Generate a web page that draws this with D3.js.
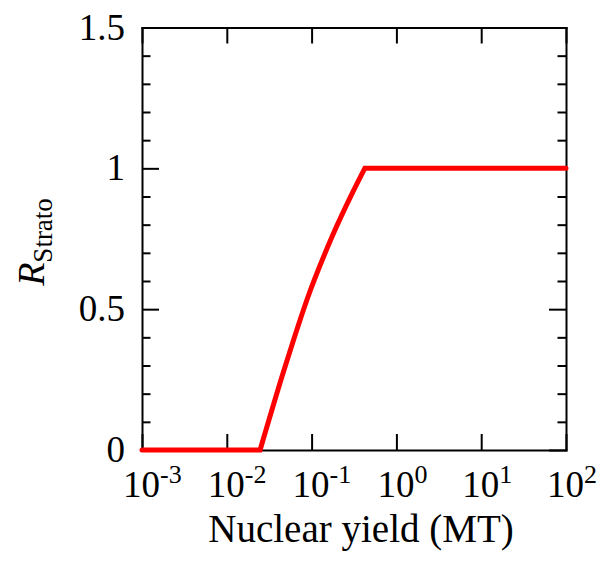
<!DOCTYPE html>
<html>
<head>
<meta charset="utf-8">
<script src="https://cdn.jsdelivr.net/npm/d3@7"></script>
<style>
  body { margin: 0; background: #fff; }
  text { font-family: "Liberation Serif", "DejaVu Serif", serif; fill: #000; }
  .axis path, .axis line { stroke: #000; stroke-width: 2; }
</style>
</head>
<body>
<svg id="chart" width="605" height="573"></svg>
<script>
// data (yield in MT, R_Strato)
var yieldMT = [0.001, 0.0247, 0.0463, 0.0619, 0.0873, 0.173, 0.308, 0.424, 100];
var rStrato = [0, 0, 0.275, 0.395, 0.53, 0.755, 0.917, 1, 1];
var xTickExp = [-3, -2, -1, 0, 1, 2];
var yTicks = [0, 0.5, 1, 1.5];
var yTickLabels = ["0", "0.5", "1", "1.5"];
var yMinor = [0.1, 0.2, 0.3, 0.4, 0.6, 0.7, 0.8, 0.9, 1.1, 1.2, 1.3, 1.4];

var pLeft = 142, pRight = 566, pTop = 27.5, pBottom = 450;

var svg = d3.select("#chart");

var x = d3.scaleLog().domain([1e-3, 1e2]).range([pLeft, pRight]);
var y = d3.scaleLinear().domain([0, 1.5]).range([pBottom, pTop]);

var xVals = xTickExp.map(function(e) { return Math.pow(10, e); });

// frame axes
svg.append("g").attr("class", "axis")
  .attr("transform", "translate(0," + pBottom + ")")
  .call(d3.axisBottom(x).tickValues(xVals).tickSizeInner(-16).tickSizeOuter(0).tickFormat(""));
svg.append("g").attr("class", "axis")
  .attr("transform", "translate(0," + pTop + ")")
  .call(d3.axisTop(x).tickValues(xVals).tickSizeInner(-16).tickSizeOuter(0).tickFormat(""));
svg.append("g").attr("class", "axis")
  .attr("transform", "translate(" + pLeft + ",0)")
  .call(d3.axisLeft(y).tickValues(yTicks).tickSizeInner(-17).tickSizeOuter(0).tickFormat(""));
svg.append("g").attr("class", "axis")
  .attr("transform", "translate(" + pRight + ",0)")
  .call(d3.axisRight(y).tickValues(yTicks).tickSizeInner(-17).tickSizeOuter(0).tickFormat(""));
svg.append("g").attr("class", "axis")
  .attr("transform", "translate(" + pLeft + ",0)")
  .call(d3.axisLeft(y).tickValues(yMinor).tickSizeInner(-8.5).tickSizeOuter(0).tickFormat(""))
  .select(".domain").remove();
svg.append("g").attr("class", "axis")
  .attr("transform", "translate(" + pRight + ",0)")
  .call(d3.axisRight(y).tickValues(yMinor).tickSizeInner(-8.5).tickSizeOuter(0).tickFormat(""))
  .select(".domain").remove();
svg.selectAll(".axis .domain").attr("stroke-linecap", "square");

// y tick labels
svg.selectAll(".ylab")
  .data(yTicks)
  .enter().append("text")
  .attr("class", "ylab")
  .attr("x", 125)
  .attr("y", function(d) { return y(d) + 12; })
  .attr("text-anchor", "end")
  .style("font-size", "37px")
  .text(function(d, i) { return yTickLabels[i]; });

// x tick labels 10^n
var xl = svg.selectAll(".xlab")
  .data(xTickExp)
  .enter().append("text")
  .attr("class", "xlab")
  .attr("x", function(d) { return x(Math.pow(10, d)) - 19; })
  .attr("y", 497)
  .style("font-size", "37px");
xl.append("tspan").text("10");
xl.append("tspan")
  .attr("dy", -14)
  .style("font-size", "26px")
  .text(function(d) { return d < 0 ? "-" + (-d) : String(d); });

// curve: flat parts straight, rising part smooth
var pts = yieldMT.map(function(v, i) { return { x: v, y: rStrato[i] }; });
var n = pts.length;
var straight = d3.line()
  .x(function(d) { return x(d.x); })
  .y(function(d) { return y(d.y); });
var smooth = d3.line()
  .x(function(d) { return x(d.x); })
  .y(function(d) { return y(d.y); })
  .curve(d3.curveMonotoneX);
var path = straight(pts.slice(0, 2)) + smooth(pts.slice(1, n - 1)).replace(/^M[^CL]*/, "") +
  straight(pts.slice(n - 2)).replace(/^M[^L]*/, "");
svg.append("path")
  .attr("d", path)
  .attr("fill", "none")
  .attr("stroke", "#ff0000")
  .attr("stroke-width", 5)
  .attr("stroke-linecap", "round")
  .attr("stroke-linejoin", "miter");

// axis titles
svg.append("text")
  .attr("x", 361)
  .attr("y", 542)
  .attr("text-anchor", "middle")
  .style("font-size", "39px")
  .text("Nuclear yield (MT)");

var yt = svg.append("text")
  .attr("transform", "translate(44,242) rotate(-90)")
  .attr("text-anchor", "middle")
  .style("font-size", "38px");
yt.append("tspan").style("font-style", "italic").text("R");
yt.append("tspan").attr("dy", 8).style("font-size", "27px").text("Strato");
</script>
</body>
</html>
